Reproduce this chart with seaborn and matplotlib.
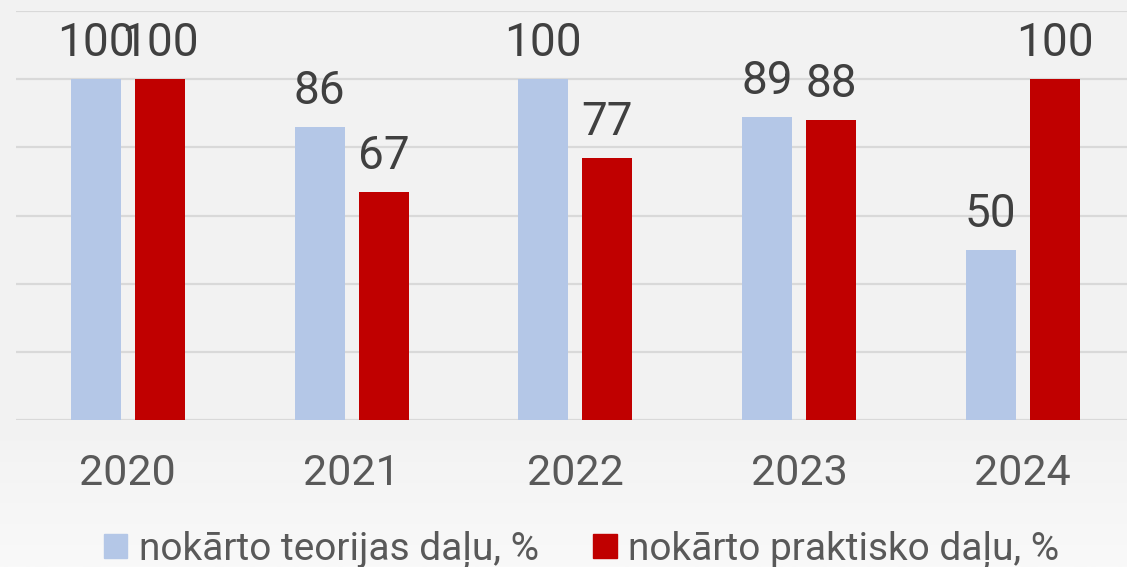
import numpy as np
import pandas as pd
import matplotlib
matplotlib.use("Agg")
import matplotlib.pyplot as plt
import matplotlib.patches as mpatches
import seaborn as sns

# data
years = ["2020", "2021", "2022", "2023", "2024"]
teorija = [100, 86, 100, 89, 50]
prakse = [100, 67, 77, 88, 100]
series_names = ["nokārto teorijas daļu, %", "nokārto praktisko daļu, %"]
colors = ["#b4c7e7", "#c00000"]

df = pd.DataFrame({
    "Gads": years * 2,
    "Vērtība": teorija + prakse,
    "Rādītājs": [series_names[0]] * len(years) + [series_names[1]] * len(years),
})

sns.set_style("white")
plt.rcParams["font.family"] = ["Roboto", "DejaVu Sans"]

fig = plt.figure(figsize=(11.27, 5.67), dpi=100)
fig.patch.set_facecolor("#f2f2f2")

# soft gradient in lower band
bg = fig.add_axes([0, 0, 1, 0.26], zorder=-5)
grad = np.linspace(0, 1, 100).reshape(-1, 1)
cmap = matplotlib.colors.LinearSegmentedColormap.from_list("bg", ["#f9f9f9", "#f2f2f2"])
bg.imshow(grad, aspect="auto", cmap=cmap, origin="lower", extent=[0, 1, 0, 1])
bg.axis("off")

ax = fig.add_axes([16 / 1127, 147 / 567, 1118.5 / 1127, 409 / 567])
ax.set_facecolor("none")

sns.barplot(data=df, x="Gads", y="Vērtība", hue="Rādītājs", palette=colors,
            width=0.572, gap=0.218, ax=ax, legend=False, saturation=1,
            linewidth=0, edgecolor="none")

ax.set_ylim(0, 120)
ax.set_xlim(-0.5, 4.5)
ax.set_yticks(range(0, 121, 20))
ax.yaxis.grid(True, color="#d9d9d9", linewidth=1.6)
ax.set_axisbelow(True)
ax.tick_params(axis="y", left=False, labelleft=False)
ax.tick_params(axis="x", bottom=False, labelsize=31, labelcolor="#595959", pad=20)
ax.set_xlabel("")
ax.set_ylabel("")
for s in ax.spines.values():
    s.set_visible(False)

for cont in ax.containers:
    ax.bar_label(cont, fontsize=33, color="#404040", padding=10)

handles = [mpatches.Patch(color=c, label=n) for c, n in zip(colors, series_names)]
fig.legend(handles=handles, loc="center", bbox_to_anchor=(0.516, 0.030), ncol=2,
           frameon=False, fontsize=28, labelcolor="#595959", handlelength=0.6,
           handleheight=0.6, handletextpad=0.3, columnspacing=1.4)

fig.savefig("out.png", dpi=100, facecolor=fig.get_facecolor())
